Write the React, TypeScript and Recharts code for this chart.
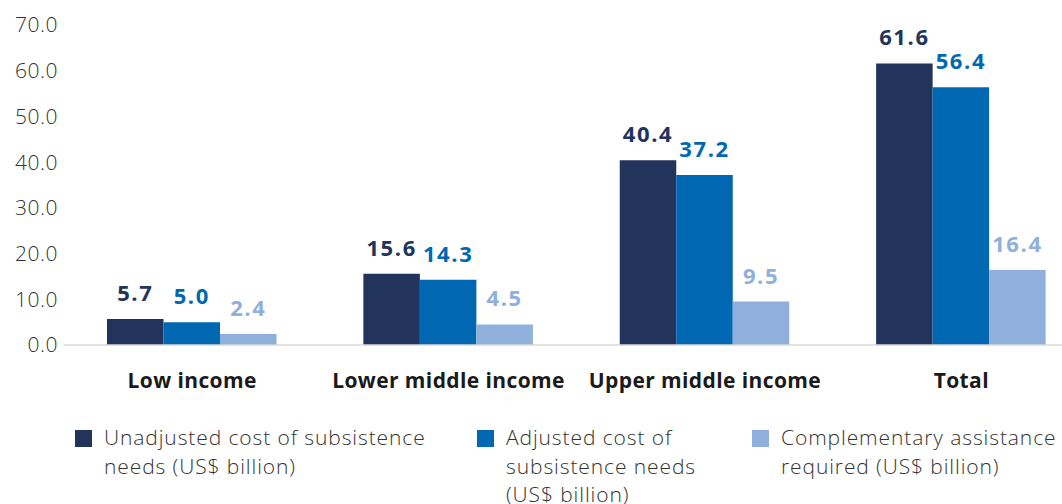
import { BarChart, Bar, XAxis, YAxis, LabelList, Legend } from 'recharts'

const CATEGORIES = ['Low income', 'Lower middle income', 'Upper middle income', 'Total']
const UNADJUSTED = [5.7, 15.6, 40.4, 61.6]
const ADJUSTED = [5.0, 14.3, 37.2, 56.4]
const COMPLEMENTARY = [2.4, 4.5, 9.5, 16.4]
const Y_TICKS = [0, 10, 20, 30, 40, 50, 60, 70]

const LEGEND_LINES = [
  ['Unadjusted cost of subsistence', 'needs (US$ billion)'],
  ['Adjusted cost of', 'subsistence needs', '(US$ billion)'],
  ['Complementary assistance', 'required (US$ billion)'],
]

const FONT = '"Open Sans", Lato, sans-serif'

const SERIES = [
  { key: 'unadjusted', name: 'Unadjusted cost of subsistence needs (US$ billion)', color: '#22335c', legendX: 75 },
  { key: 'adjusted', name: 'Adjusted cost of subsistence needs (US$ billion)', color: '#0068b3', legendX: 477 },
  { key: 'complementary', name: 'Complementary assistance required (US$ billion)', color: '#8fafdc', legendX: 752 },
]

const data = CATEGORIES.map((category, i) => ({
  category,
  unadjusted: UNADJUSTED[i],
  adjusted: ADJUSTED[i],
  complementary: COMPLEMENTARY[i],
}))

const LegendBlock = () => (
  <div style={{ position: 'relative', height: 82, fontFamily: FONT }}>
    {SERIES.map((s, i) => (
      <div key={s.key}>
        <div
          style={{
            position: 'absolute',
            left: s.legendX,
            top: 8,
            width: 17,
            height: 17,
            background: s.color,
          }}
        />
        <div
          style={{
            position: 'absolute',
            left: s.legendX + 29,
            top: 1,
            fontSize: 21,
            letterSpacing: 0.9,
            lineHeight: '28.6px',
            fontWeight: 300,
            color: '#333333',
            whiteSpace: 'nowrap',
          }}
        >
          {LEGEND_LINES[i].map((line) => (
            <div key={line}>{line}</div>
          ))}
        </div>
      </div>
    ))}
  </div>
)

export default function App() {
  return (
    <div
      style={{
        position: 'absolute',
        left: 0,
        top: 0,
        width: 1062,
        height: 504,
        overflow: 'hidden',
        background: '#ffffff',
      }}
    >
      <BarChart
        width={1100}
        height={504}
        data={data}
        margin={{ top: 25, right: 10.5, bottom: 0, left: 0 }}
        barGap={0}
      >
        <XAxis
          dataKey="category"
          axisLine={{ stroke: '#d9d9d9', strokeWidth: 1.5 }}
          tickLine={false}
          tickSize={0}
          tickMargin={28}
          height={77}
          interval={0}
          tick={{ fontSize: 21, fontWeight: 700, fill: '#1a1a1a', fontFamily: FONT, letterSpacing: 0.4 }}
        />
        <YAxis
          domain={[0, 70]}
          ticks={Y_TICKS}
          width={64}
          axisLine={false}
          tickLine={false}
          tickSize={0}
          tickMargin={6}
          tickFormatter={(v: number) => v.toFixed(1)}
          tick={{ fontSize: 21, fontWeight: 300, fill: '#333333', fontFamily: FONT, letterSpacing: 0.5 }}
        />
        <Legend verticalAlign="bottom" content={() => <LegendBlock />} />
        {SERIES.map((s) => (
          <Bar key={s.key} dataKey={s.key} name={s.name} fill={s.color} barSize={56.5} isAnimationActive={false}>
            <LabelList
              dataKey={s.key}
              position="top"
              offset={18}
              formatter={(v: number) => v.toFixed(1)}
              style={{ fontSize: 22, fontWeight: 700, fill: s.color, fontFamily: FONT, letterSpacing: 1.6 }}
            />
          </Bar>
        ))}
      </BarChart>
    </div>
  )
}
